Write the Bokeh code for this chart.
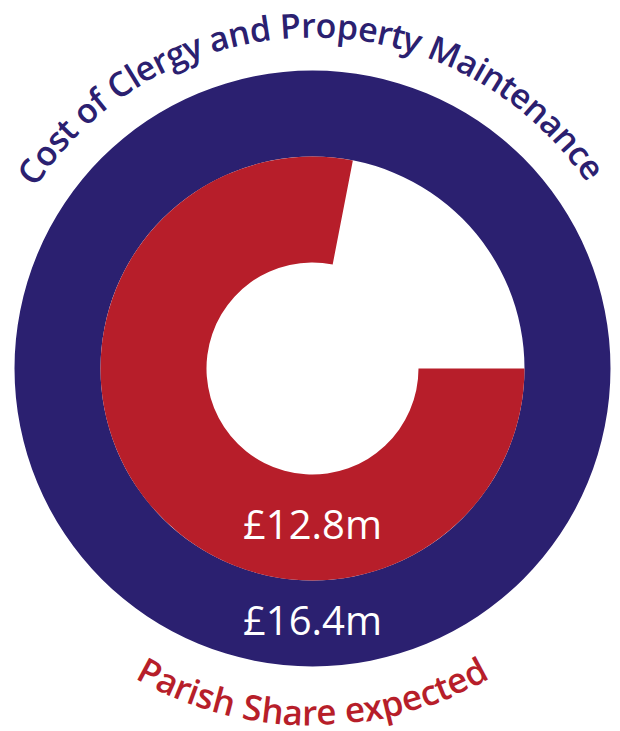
import math
from bokeh.plotting import figure
from bokeh.models import ColumnDataSource
from bokeh.core.properties import value
from bokeh.embed import file_html
from bokeh.resources import INLINE

# ---- data ----
series_names = ["Cost of Clergy and Property Maintenance", "Parish Share expected"]
amounts = [16.4, 12.8]
amount_labels = ["£16.4m", "£12.8m"]
series_colors = ["#2b2070", "#b71e2a"]

FONT = "'Open Sans SemiBold', 'Open Sans'"
LABEL_FONT = "Open Sans"

# approximate Open Sans advance widths (em)
W_EM = {
    " ": 0.260, "C": 0.633, "o": 0.602, "s": 0.477, "t": 0.353, "f": 0.344,
    "l": 0.258, "e": 0.561, "r": 0.408, "g": 0.539, "y": 0.497, "a": 0.556,
    "n": 0.614, "d": 0.613, "P": 0.603, "p": 0.613, "M": 0.913, "i": 0.258,
    "c": 0.476, "h": 0.614, "S": 0.548, "x": 0.504,
}
SEMI = 1.03      # semibold width factor
BASE_OFF = 0.41  # baseline correction (em) for rendered text anchor

W, H = 620, 731
CXP, CYP = 312, 368
p = figure(width=W, height=H, x_range=(-CXP, W - CXP), y_range=(-(H - CYP), CYP),
           output_backend="svg", toolbar_location=None, min_border=0)
p.axis.visible = False
p.grid.visible = False
p.outline_line_color = None
p.background_fill_color = "white"
p.border_fill_color = "white"

R_OUT, R_MID, R_IN = 298, 212, 106

# outer ring: total cost
p.annulus(x=[0], y=[0], inner_radius=R_MID, outer_radius=R_OUT,
          fill_color=series_colors[0], line_color=None)
# inner ring: parish share as fraction of cost
frac = amounts[1] / amounts[0]
p.annular_wedge(x=[0], y=[0], inner_radius=R_IN, outer_radius=R_MID,
                start_angle=0, end_angle=2 * math.pi * (1 - frac), direction="clock",
                fill_color=series_colors[1], line_color=None)

# value labels
lab_font = 40
lab_src = ColumnDataSource(dict(
    x=[0, 0],
    y=[-((R_MID + R_OUT) / 2 + 0.3 * lab_font) + BASE_OFF * lab_font,
       -((R_IN + R_MID) / 2 + 0.3 * lab_font) + BASE_OFF * lab_font],
    text=amount_labels,
))
p.text(x="x", y="y", text="text", source=lab_src, text_color="white",
       text_font=value(LABEL_FONT), text_font_size=f"{lab_font}px",
       text_align="center", text_baseline="alphabetic")


def arc_chars(text, radius, mid_deg, font_px, spacing, top=True):
    widths = [W_EM.get(ch, 0.55) * SEMI * font_px for ch in text]
    total = sum(widths) + spacing * (len(text) - 1)
    mid = math.radians(mid_deg)
    r_anchor = radius + BASE_OFF * font_px if top else radius - BASE_OFF * font_px
    xs, ys, angs, chars = [], [], [], []
    s = -total / 2
    for ch, w in zip(text, widths):
        c = s + w / 2
        d = c / radius
        if top:
            phi = mid - d
            rot = phi - math.pi / 2
        else:
            phi = mid + d
            rot = phi + math.pi / 2
        if ch != " ":
            xs.append(r_anchor * math.cos(phi))
            ys.append(r_anchor * math.sin(phi))
            angs.append(rot)
            chars.append(ch)
        s += w + spacing
    return dict(x=xs, y=ys, angle=angs, text=chars)


TOP_FS, BOT_FS = 34, 35
top_src = ColumnDataSource(arc_chars(series_names[0], 330, 90.5, TOP_FS, -0.5, top=True))
p.text(x="x", y="y", text="text", angle="angle", source=top_src,
       text_color=series_colors[0], text_font=value(FONT), text_font_size=f"{TOP_FS}px",
       text_align="center", text_baseline="alphabetic")

bot_src = ColumnDataSource(arc_chars(series_names[1], 358, 270, BOT_FS, 0.0, top=False))
p.text(x="x", y="y", text="text", angle="angle", source=bot_src,
       text_color=series_colors[1], text_font=value(FONT), text_font_size=f"{BOT_FS}px",
       text_align="center", text_baseline="alphabetic")

open("out.html", "w").write(file_html(p, INLINE))
